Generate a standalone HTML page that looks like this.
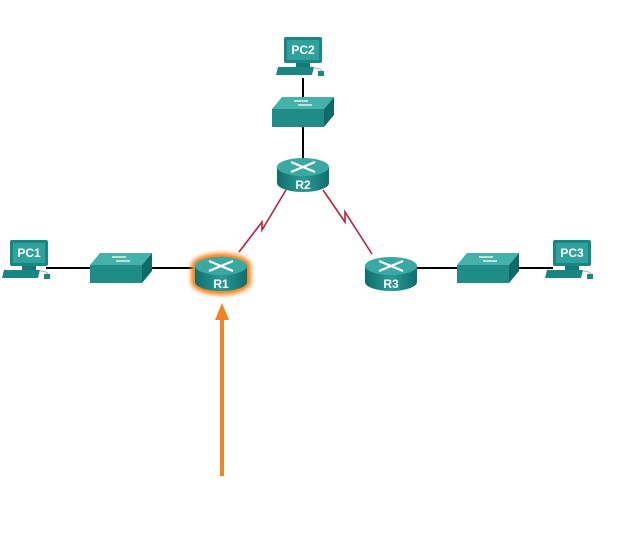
<!DOCTYPE html>
<html><head><style>body{margin:0;background:#fff}svg{display:block}text{font-family:"Liberation Sans",sans-serif;font-weight:bold;fill:#fff}</style></head>
<body>
<svg width="622" height="555" viewBox="0 0 622 555" xmlns="http://www.w3.org/2000/svg">
<defs>
<linearGradient id="rb" x1="0" x2="1"><stop offset="0" stop-color="#0e6f6d"/><stop offset=".5" stop-color="#2a9a96"/><stop offset="1" stop-color="#0e6f6d"/></linearGradient>
<filter id="blur" x="-50%" y="-50%" width="200%" height="200%"><feGaussianBlur stdDeviation="2"/></filter>
<g id="router">
<path d="M-26,-6 L-26,10 A26,9 0 0 0 26,10 L26,-6 Z" fill="url(#rb)"/>
<ellipse cx="0" cy="-6" rx="26" ry="9" fill="#3aa9a4"/>
<path d="M-12,-11 L12,-1 M12,-11 L-12,-1" stroke="#fff" stroke-width="2.2"/>
</g>
<g id="switch">
<polygon points="0,12 10,0 62,0 52,12" fill="#45b1ab"/>
<polygon points="0,12 52,12 52,30 0,30" fill="#1f8c87"/>
<polygon points="52,12 62,0 62,18 52,30" fill="#0d6a66"/>
<path d="M22,4 h14 M26,8 h14" stroke="#fff" stroke-width="1.2"/>
</g>
<g id="pc">
<rect x="0" y="0" width="38" height="26" rx="2" fill="#1a8682"/>
<rect x="3" y="3" width="32" height="20" fill="#2fa29d"/>
<rect x="12" y="26" width="14" height="4" fill="#157a76"/>
<polygon points="-6,30 30,30 28,38 -8,38" fill="#1a8682"/>
<rect x="34" y="34" width="6" height="5" fill="#1a8682"/>
<path d="M30,31 q6,0 8,3" stroke="#aaa" fill="none"/>
</g>
</defs>
<g stroke="#000" stroke-width="2">
<line x1="303" y1="78" x2="303" y2="97"/><line x1="303" y1="127" x2="303" y2="160"/>
<line x1="46" y1="268" x2="90" y2="268"/><line x1="152" y1="268" x2="196" y2="268"/>
<line x1="416" y1="268" x2="457" y2="268"/><line x1="518" y1="268" x2="553" y2="268"/>
</g>
<g stroke="#c0203c" stroke-width="1.6" fill="none">
<polyline points="239,252 262,222 262,230 286,190"/>
<polyline points="323,190 345,222 345,212 372,254"/>
</g>
<path d="M-30,-6 L-30,10 A30,13 0 0 0 30,10 L30,-6 A30,13 0 0 0 -30,-6 Z" transform="translate(221,272)" fill="#f5821f" filter="url(#blur)"/>
<use href="#router" x="303" y="173"/>
<use href="#router" x="221" y="272"/>
<use href="#router" x="391" y="272"/>
<text x="303" y="189" font-size="12" text-anchor="middle">R2</text>
<text x="221" y="288" font-size="12" text-anchor="middle">R1</text>
<text x="391" y="288" font-size="12" text-anchor="middle">R3</text>
<use href="#switch" x="272" y="97"/>
<use href="#switch" x="90" y="253"/>
<use href="#switch" x="457" y="253"/>
<use href="#pc" x="284" y="37"/>
<use href="#pc" x="10" y="240"/>
<use href="#pc" x="553" y="240"/>
<text x="303" y="54" font-size="12" text-anchor="middle">PC2</text>
<text x="29" y="257" font-size="12" text-anchor="middle">PC1</text>
<text x="572" y="257" font-size="12" text-anchor="middle">PC3</text>
<line x1="222" y1="476" x2="222" y2="318" stroke="#f5821f" stroke-width="4"/>
<polygon points="222,303 215,320 229,320" fill="#f5821f"/>
</svg>
</body></html>
